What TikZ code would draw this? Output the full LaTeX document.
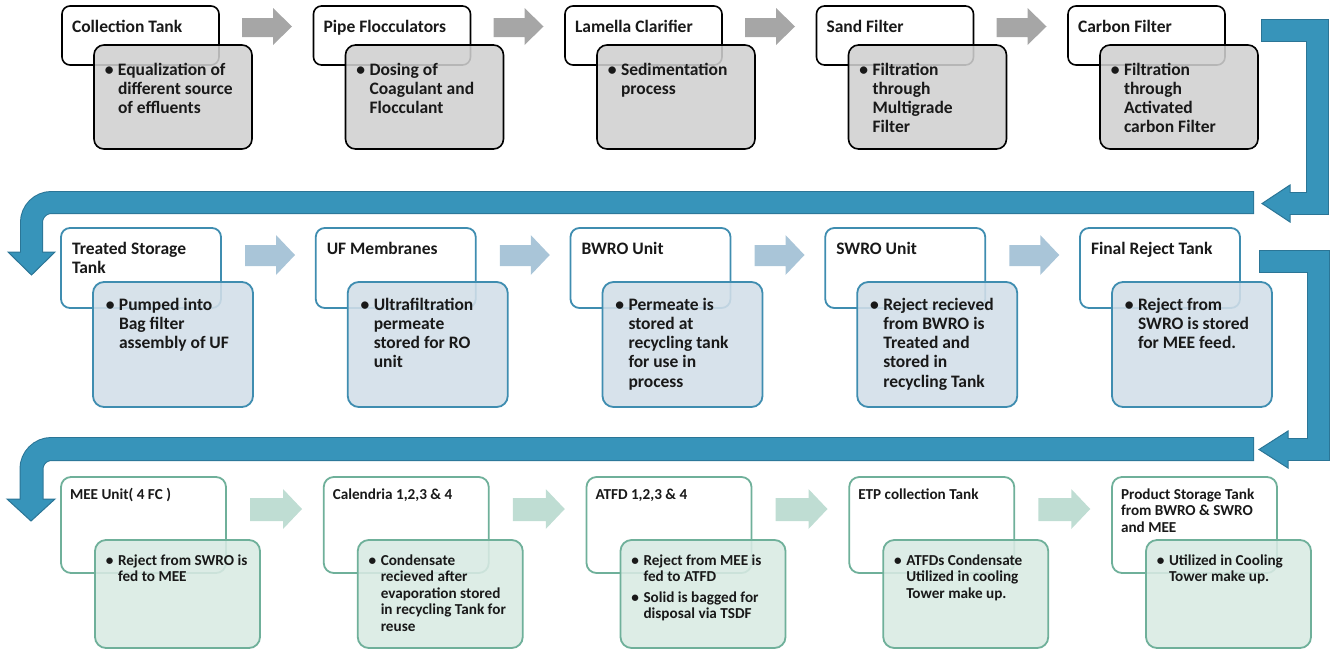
\documentclass[tikz,border=0pt]{standalone}
\usepackage{fontspec}
\setmainfont{Carlito}
\definecolor{gryfill}{HTML}{D0D0D0}
\definecolor{gryarr}{HTML}{A6A6A6}
\definecolor{bluline}{HTML}{3F8DB0}
\definecolor{blufill}{HTML}{D2DEE8}
\definecolor{bluarr}{HTML}{A9C5D8}
\definecolor{grnline}{HTML}{6FB09A}
\definecolor{grnfill}{HTML}{D8EAE3}
\definecolor{grnarr}{HTML}{BFDDD3}
\definecolor{bigarr}{HTML}{3794BA}
\definecolor{bigline}{HTML}{2B7596}
\newcommand\tl[1]{\begin{tabular}[t]{@{}l@{}}#1\end{tabular}}
\newcommand\bu{\llap{\textbullet\hspace{4.5pt}}}
\newcommand\bl[1]{\tl{\bu#1}}
\newcommand\barrow[8]{\fill[#8] (#1,#4) -- (#2,#4) -- (#2,#6) -- (#3,{(#6+#7)/2}) -- (#2,#7) -- (#2,#5) -- (#1,#5) -- cycle;}
\tikzset{
 every node/.style={inner sep=0pt, outer sep=0pt},
 boxA/.style={draw=black, line width=1.6pt, fill=white, rounded corners=8pt, minimum width=157pt, minimum height=59pt, anchor=north west},
 detA/.style={draw=black, line width=1.6pt, fill=gryfill, fill opacity=0.88, rounded corners=10pt, minimum width=158pt, minimum height=104pt, anchor=north west},
 boxB/.style={draw=bluline, line width=1.8pt, fill=white, rounded corners=9pt, minimum width=160pt, minimum height=80pt, anchor=north west},
 detB/.style={draw=bluline, line width=1.8pt, fill=blufill, fill opacity=0.88, rounded corners=11pt, minimum width=160pt, minimum height=125pt, anchor=north west},
 boxC/.style={draw=grnline, line width=1.8pt, fill=white, rounded corners=10pt, minimum width=165pt, minimum height=96pt, anchor=north west},
 detC/.style={draw=grnline, line width=1.8pt, fill=grnfill, fill opacity=0.88, rounded corners=11pt, minimum width=165pt, minimum height=108pt, anchor=north west},
 fA/.style={font=\bfseries\fontsize{17.5}{19.3}\selectfont, anchor=north west, text=black!90},
 fC/.style={font=\bfseries\fontsize{15.2}{16.6}\selectfont, anchor=north west, text=black!90},
}
\newcommand\rowA[4]{%
 \node[boxA] (#1) at (#2,6) {};
 \node[detA] (#1d) at (#2+32,45) {};
 \node[fA] (#1t) at (#2+10,18.5) {\tl{#3}};
 \node[fA] (#1x) at (#2+56,61.5) {\bl{#4}};
}
\newcommand\rowB[4]{%
 \node[boxB] (#1) at (#2,228) {};
 \node[detB] (#1d) at (#2+32,282) {};
 \node[fA] (#1t) at (#2+11,240.5) {\tl{#3}};
 \node[fA] (#1x) at (#2+58,296.5) {\bl{#4}};
}
\newcommand\rowC[4]{%
 \node[boxC] (#1) at (#2,477) {};
 \node[detC] (#1d) at (#2+34,540) {};
 \node[fC] (#1t) at (#2+9,487.4) {\tl{#3}};
 \node[fC] (#1x) at (#2+57,553.4) {\tl{#4}};
}
\begin{document}
\begin{tikzpicture}[x=1pt,y=-1pt,line join=miter]
\useasboundingbox (0,0) rectangle (1330,649);
% ---- big bent arrows
% R1
\draw[bigline, line width=23pt] (1261,30) -- (1317.5,30) -- (1317.5,203) -- (1290,203);
\filldraw[fill=bigarr, draw=bigline, line width=1pt] (1290,185) -- (1262,203.5) -- (1290,222) -- cycle;
\draw[bigarr, line width=21pt] (1262,30) -- (1317.5,30) -- (1317.5,203) -- (1288,203);
% L1
\draw[bigline, line width=23pt, rounded corners=20pt] (1254,202.5) -- (31.5,202.5) -- (31.5,252);
\filldraw[fill=bigarr, draw=bigline, line width=1pt] (8,252) -- (55,252) -- (31.5,275) -- cycle;
\draw[bigarr, line width=21pt, rounded corners=20pt] (1253,202.5) -- (31.5,202.5) -- (31.5,254);
% R2
\draw[bigline, line width=23pt] (1259,261.5) -- (1318,261.5) -- (1318,449) -- (1288,449);
\filldraw[fill=bigarr, draw=bigline, line width=1pt] (1288,431) -- (1259,449.5) -- (1288,468) -- cycle;
\draw[bigarr, line width=21pt] (1260,261.5) -- (1318,261.5) -- (1318,449) -- (1286,449);
% L2
\draw[bigline, line width=24pt, rounded corners=20pt] (1254,449) -- (31.5,449) -- (31.5,499);
\filldraw[fill=bigarr, draw=bigline, line width=1pt] (7,499) -- (55,499) -- (31,521) -- cycle;
\draw[bigarr, line width=22pt, rounded corners=20pt] (1253,449) -- (31.5,449) -- (31.5,501);
% ---- row 1
\rowA{a1}{62}{Collection Tank}{Equalization of\\different source\\of effluents}
\rowA{a2}{313.5}{Pipe Flocculators}{Dosing of\\Coagulant and\\Flocculant}
\rowA{a3}{565}{Lamella Clarifier}{Sedimentation\\process}
\rowA{a4}{816.5}{Sand Filter}{Filtration\\through\\Multigrade\\Filter}
\rowA{a5}{1068}{Carbon Filter}{Filtration\\through\\Activated\\carbon Filter}
\foreach \X in {62,313.5,565,816.5}{\barrow{\X+180}{\X+211}{\X+230}{18}{37}{8}{45}{gryarr}}
% ---- row 2
\rowB{b1}{61}{Treated Storage\\Tank}{Pumped into\\Bag filter\\assembly of UF}
\rowB{b2}{315.75}{UF Membranes}{Ultrafiltration\\permeate\\stored for RO\\unit}
\rowB{b3}{570.5}{BWRO Unit}{Permeate is\\stored at\\recycling tank\\for use in\\process}
\rowB{b4}{825.25}{SWRO Unit}{Reject recieved\\from BWRO is\\Treated and\\stored in\\recycling Tank}
\rowB{b5}{1080}{Final Reject Tank}{Reject from\\SWRO is stored\\for MEE feed.}
\foreach \X in {61,315.75,570.5,825.25}{\barrow{\X+184}{\X+215}{\X+234}{245}{266}{235}{275}{bluarr}}
% ---- row 3
\rowC{c1}{61}{MEE Unit( 4 FC )}{\bu Reject from SWRO is\\fed to MEE}
\rowC{c2}{323.75}{Calendria 1,2,3 \& 4}{\bu Condensate\\recieved after\\evaporation stored\\in recycling Tank for\\reuse}
\rowC{c3}{586.5}{ATFD 1,2,3 \& 4}{\bu Reject from MEE is\\fed to ATFD\\[4pt]\bu Solid is bagged for\\disposal via TSDF}
\rowC{c4}{849.25}{ETP collection Tank}{\bu ATFDs Condensate\\Utilized in cooling\\Tower make up.}
\rowC{c5}{1112}{Product Storage Tank\\from BWRO \& SWRO\\and MEE}{\bu Utilized in Cooling\\Tower make up.}
\foreach \X in {61,323.75,586.5,849.25}{\barrow{\X+189}{\X+222}{\X+241}{498}{521}{489}{529}{grnarr}}
\end{tikzpicture}
\end{document}
